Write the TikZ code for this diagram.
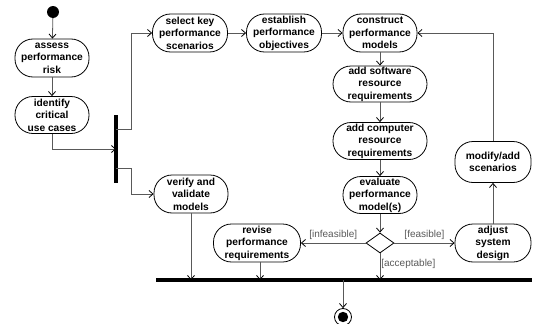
\documentclass[tikz,border=0pt]{standalone}
\usepackage{fontspec}
\setmainfont{Liberation Sans}
\usetikzlibrary{arrows.meta,shapes.geometric}
\begin{document}
\begin{tikzpicture}[x=1pt,y=-1pt,
 act/.style={draw=black,line width=0.8pt,rounded corners=18pt,align=center,
   font=\bfseries\fontsize{10.2}{12.4}\selectfont,inner sep=0pt,minimum height=37pt},
 flow/.style={draw=black!65,line width=0.8pt,-{Straight Barb[length=4pt,width=7pt,black]}},
 guard/.style={font=\fontsize{10}{12}\selectfont,text=black!65,inner sep=0pt},
 bar/.style={fill=black,inner sep=0pt}]
\useasboundingbox (0,0) rectangle (533,324);
% nodes
\node[circle,fill=black,inner sep=0pt,minimum size=12pt] (start) at (53,12) {};
\node[act,minimum width=74pt,minimum height=38pt] (assess) at (52,58) {assess\\performance\\risk};
\node[act,minimum width=74pt] (identify) at (52,115) {identify\\critical\\use cases};
\node[bar,minimum width=3.5pt,minimum height=68pt] (fork) at (116,149) {};
\node[act,minimum width=75pt,minimum height=38pt] (select) at (190,33) {select key\\performance\\scenarios};
\node[act,minimum width=75pt,minimum height=38pt] (establish) at (284,33) {establish\\performance\\objectives};
\node[act,minimum width=74pt,minimum height=38pt] (construct) at (380,33) {construct\\performance\\models};
\node[act,minimum width=94pt,minimum height=36pt] (software) at (380,84) {add software\\resource\\requirements};
\node[act,minimum width=94pt] (computer) at (380,141) {add computer\\resource\\requirements};
\node[act,minimum width=74pt] (evaluate) at (380,195) {evaluate\\performance\\model(s)};
\node[diamond,draw=black,line width=0.8pt,inner sep=0pt,minimum width=28pt,minimum height=20pt] (dec) at (380,243) {};
\node[act,minimum width=74pt,minimum height=38pt] (verify) at (191,194) {verify and\\validate\\models};
\node[act,minimum width=87pt,minimum height=38pt] (revise) at (257,243) {revise\\performance\\requirements};
\node[act,minimum width=76pt,minimum height=38pt] (adjust) at (493,243) {adjust\\system\\design};
\node[act,minimum width=76pt,minimum height=41pt] (modify) at (493,162) {modify/add\\scenarios};
\node[bar,minimum width=376pt,minimum height=4pt] (join) at (344,280) {};
\node[circle,draw=black,line width=0.8pt,fill=white,inner sep=0pt,minimum size=17pt] (final) at (343,317) {};
\fill (final.center) circle (5.2);
% bend coordinates
\coordinate (b1) at (52,149);
\coordinate (f1) at (116,149);
\coordinate (f2) at (116,129);
\coordinate (b2) at (131,129);
\coordinate (b3) at (131,33);
\coordinate (f3) at (116,168);
\coordinate (b4) at (131,168);
\coordinate (b5) at (131,194);
\coordinate (b6) at (493,33);
\coordinate (j1) at (191,280);
\coordinate (j2) at (260,280);
\coordinate (j3) at (380,280);
\coordinate (j4) at (343,280);
% connectors
\draw[flow] (start) -- (assess);
\draw[flow] (assess) -- (identify);
\draw[flow] (identify.south) -- (b1) -- (f1);
\draw[flow] (f2) -- (b2) -- (b3) -- (select.west);
\draw[flow] (select) -- (establish);
\draw[flow] (establish) -- (construct);
\draw[flow] (construct) -- (software);
\draw[flow] (software) -- (computer);
\draw[flow] (computer) -- (evaluate);
\draw[flow] (evaluate) -- (dec.north);
\draw[flow] (dec.west) -- node[guard,above=3pt] {[infeasible]} (revise.east);
\draw[flow] (dec.east) -- node[guard,above=3pt] {[feasible]} (adjust.west);
\draw[flow] (dec.south) -- node[guard,right=1pt,pos=0.4] {[acceptable]} (j3);
\draw[flow] (adjust) -- (modify);
\draw[flow] (modify.north) -- (b6) -- (construct.east);
\draw[flow] (f3) -- (b4) -- (b5) -- (verify.west);
\draw[flow] (verify.south) -- (j1);
\draw[flow] (revise.south -| j2) -- (j2);
\draw[flow] (j4) -- (final.north);
\end{tikzpicture}
\end{document}
